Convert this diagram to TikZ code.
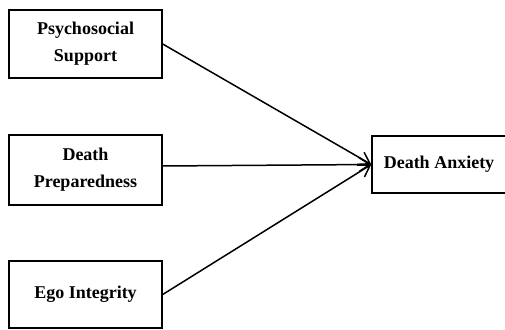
\documentclass[tikz,border=0pt]{standalone}
\usepackage{fontspec}
\setmainfont{Liberation Serif}
\usetikzlibrary{arrows.meta}

\tikzset{
    varbox/.style={draw, line width=1.4pt, minimum width=153pt, align=center,
        font=\fontsize{18}{27}\selectfont\bfseries, inner sep=0pt},
    link/.style={line width=1.5pt, -{Straight Barb[length=11pt,width=14pt,line width=1.5pt]}}
}

\begin{document}
\begin{tikzpicture}[x=1pt,y=1pt]
    \useasboundingbox(0,0)rectangle(505,329);

    \node[varbox, minimum height=68pt](psy) at (85.5,285){Psychosocial\\Support};
    \node[varbox, minimum height=70pt](prep) at (85.5,159){Death\\Preparedness};
    \node[varbox, minimum height=67pt](ego) at (85.5,34.5){Ego Integrity};
    \node[varbox, minimum width=134pt, minimum height=57pt](anx) at (439,164.5){Death Anxiety};

    \draw[link](psy.east)--(anx.west);
    \draw[link]([yshift=4pt]prep.east)--(anx.west);
    \draw[link](ego.east)--(anx.west);
\end{tikzpicture}
\end{document}
